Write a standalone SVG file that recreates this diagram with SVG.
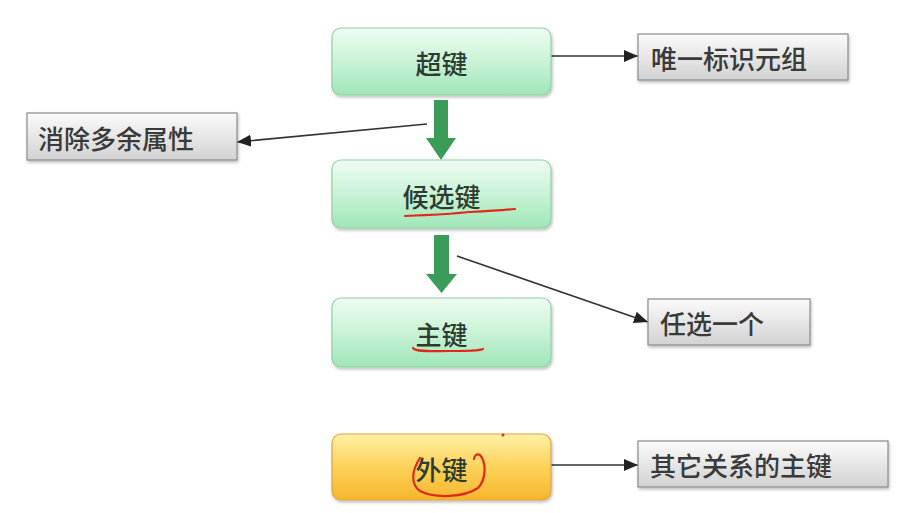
<svg xmlns="http://www.w3.org/2000/svg" width="902" height="513" viewBox="0 0 902 513">
<defs>
<linearGradient id="gGreen" x1="0" y1="0" x2="0" y2="1">
<stop offset="0" stop-color="#effcf2"/>
<stop offset="0.5" stop-color="#c9f3d6"/>
<stop offset="1" stop-color="#9fe6b8"/>
</linearGradient>
<linearGradient id="gOrange" x1="0" y1="0" x2="0" y2="1">
<stop offset="0" stop-color="#fff0a8"/>
<stop offset="0.5" stop-color="#fcd25a"/>
<stop offset="1" stop-color="#f5b62c"/>
</linearGradient>
<linearGradient id="gGray" x1="0" y1="0" x2="0" y2="1">
<stop offset="0" stop-color="#fbfbfb"/>
<stop offset="1" stop-color="#d2d2d2"/>
</linearGradient>
<filter id="sh" x="-10%" y="-20%" width="120%" height="150%">
<feDropShadow dx="1" dy="2" stdDeviation="1.5" flood-color="#000" flood-opacity="0.25"/>
</filter>
<marker id="ah" viewBox="0 0 14 12" refX="14" refY="6" markerWidth="14" markerHeight="12" markerUnits="userSpaceOnUse" orient="auto">
<path d="M0,0 L14,6 L0,12 Z" fill="#222"/>
</marker>
<style>
.key{stroke:#8fd0a6;stroke-width:1.2;fill:url(#gGreen);filter:url(#sh)}
.fk{stroke:#e2a43a;stroke-width:1.2;fill:url(#gOrange);filter:url(#sh)}
.lab{stroke:#8a8a8a;stroke-width:1.2;fill:url(#gGray);filter:url(#sh)}
.t{font-family:"Noto Sans CJK SC","Liberation Sans",sans-serif;font-size:26px;font-weight:500;fill:#2f3b31;text-anchor:middle;dominant-baseline:central}
.tl{font-family:"Noto Sans CJK SC","Liberation Sans",sans-serif;font-size:26px;font-weight:500;fill:#3a3a3a;dominant-baseline:central}
.con{stroke:#333;stroke-width:1.6;fill:none;marker-end:url(#ah)}
.blk{fill:#3a9d57}
.red{stroke:#e0281c;stroke-width:2.2;fill:none;stroke-linecap:round;stroke-linejoin:round}
</style>
</defs>
<rect width="902" height="513" fill="#ffffff"/>

<g id="connectors">
<path class="blk" d="M434,100 H448 V138 H456 L441,160 L426,138 H434 Z"/>
<path class="blk" d="M434,235 H449 V274 H457 L441.5,293 L426,274 H434 Z"/>
<line class="con" x1="551" y1="56" x2="638" y2="56"/>
<line class="con" x1="427" y1="124" x2="237" y2="142"/>
<line class="con" x1="457" y1="256" x2="648" y2="322"/>
<line class="con" x1="551" y1="465" x2="638" y2="465"/>
</g>

<g id="n-superkey">
<rect class="key" x="332" y="28" width="219" height="67" rx="9"/>
<text class="t" x="441.5" y="62">超键</text>
</g>
<g id="n-candidate">
<rect class="key" x="332" y="160" width="219" height="68" rx="9"/>
<text class="t" x="441.5" y="195">候选键</text>
</g>
<g id="n-primary">
<rect class="key" x="332" y="298" width="219" height="69" rx="9"/>
<text class="t" x="441.5" y="333">主键</text>
</g>
<g id="n-foreign">
<rect class="fk" x="332" y="434" width="219" height="66" rx="9"/>
<text class="t" x="441.5" y="468">外键</text>
</g>

<g id="l-unique">
<rect class="lab" x="638" y="34" width="210" height="46"/>
<text class="tl" x="651" y="57">唯一标识元组</text>
</g>
<g id="l-remove">
<rect class="lab" x="27" y="113" width="210" height="47"/>
<text class="tl" x="38" y="137">消除多余属性</text>
</g>
<g id="l-pick">
<rect class="lab" x="648" y="299" width="162" height="46"/>
<text class="tl" x="660" y="322">任选一个</text>
</g>
<g id="l-other">
<rect class="lab" x="638" y="441" width="250" height="46"/>
<text class="tl" x="650" y="464">其它关系的主键</text>
</g>

<g id="annotations">
<path class="red" d="M405,216 C430,215 450,214 470,212 C490,211 505,210 515,209"/>
<path class="red" d="M413,348 C415,352 430,351 450,351 C470,351 478,351 483,349"/>
<path class="red" d="M420,458 C412,470 410,484 420,491 C435,499 465,497 478,488 C487,478 486,462 480,455 C477,453 474,456 474,459"/>
<circle cx="503" cy="435" r="1.5" fill="#e0281c"/>
</g>
</svg>
